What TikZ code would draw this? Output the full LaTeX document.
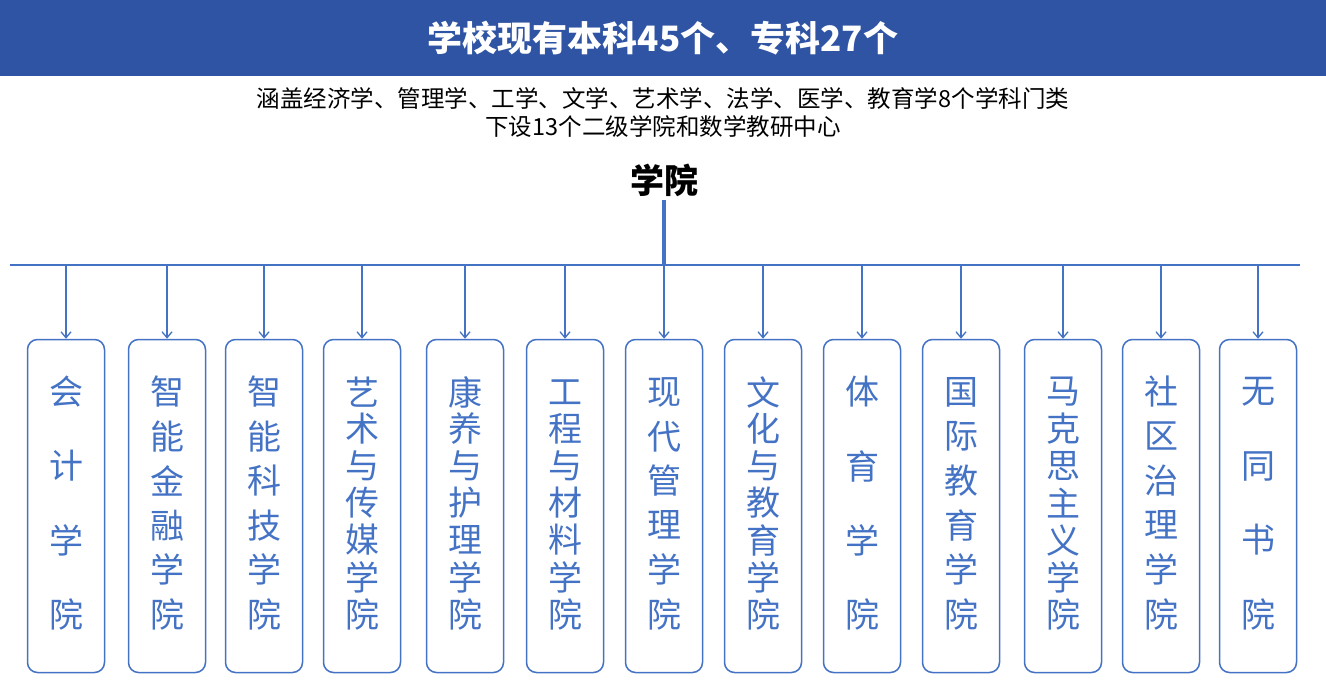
\documentclass[tikz,border=0pt]{standalone}
\usepackage{fontspec}
\setmainfont{Noto Sans CJK SC}
\usetikzlibrary{arrows.meta}
\definecolor{bar}{HTML}{2E54A3}
\definecolor{bl}{HTML}{4472C4}
\newcommand\mybox[4]{%
  \coordinate (#2-top) at (#1,265);
  \node[box] (#2) at (#1,506) {};
  \foreach \c [count=\i] in {#4} {\node[ch] (#2-\i) at (#1,{392+(\i-1)*222/(#3-1)}) {\c};}
  \draw[arr] (#2-top) -- (#2.north);
}
\begin{document}
\begin{tikzpicture}[x=1pt,y=-1pt,
  box/.style={draw=bl,line width=1.5pt,rounded corners=10pt,minimum width=77pt,minimum height=333pt,inner sep=0pt},
  ch/.style={text=bl,font=\fontsize{34}{36}\selectfont,inner sep=0pt},
  arr/.style={draw=bl,line width=1.3pt,-{Straight Barb[length=6pt,width=10pt]}}]
\useasboundingbox (0,0) rectangle (1326,690);
\fill[bar] (0,0) rectangle (1326,76);
\node[text=white,font=\bfseries\fontsize{35}{37}\selectfont] (title) at (663,38) {学校现有本科45个、专科27个};
\node[font=\fontsize{23.5}{28}\selectfont,align=center] (sub) at (663,113) {涵盖经济学、管理学、工学、文学、艺术学、法学、医学、教育学8个学科门类\\下设13个二级学院和数学教研中心};
\node[font=\bfseries\fontsize{34}{36}\selectfont] (xy) at (664,180) {学院};
\coordinate (hub) at (664,265);
\coordinate (L) at (10,265);
\coordinate (R) at (1300,265);
\draw[bl,line width=4pt] (xy.south) -- (hub);
\draw[bl,line width=1.5pt] (L) -- (R);
\mybox{66}{b1}{4}{会,计,学,院}
\mybox{167}{b2}{6}{智,能,金,融,学,院}
\mybox{264}{b3}{6}{智,能,科,技,学,院}
\mybox{362}{b4}{7}{艺,术,与,传,媒,学,院}
\mybox{465}{b5}{7}{康,养,与,护,理,学,院}
\mybox{565}{b6}{7}{工,程,与,材,料,学,院}
\mybox{664}{b7}{6}{现,代,管,理,学,院}
\mybox{763}{b8}{7}{文,化,与,教,育,学,院}
\mybox{862}{b9}{4}{体,育,学,院}
\mybox{961}{b10}{6}{国,际,教,育,学,院}
\mybox{1063}{b11}{7}{马,克,思,主,义,学,院}
\mybox{1161}{b12}{6}{社,区,治,理,学,院}
\mybox{1258}{b13}{4}{无,同,书,院}
\end{tikzpicture}
\end{document}
